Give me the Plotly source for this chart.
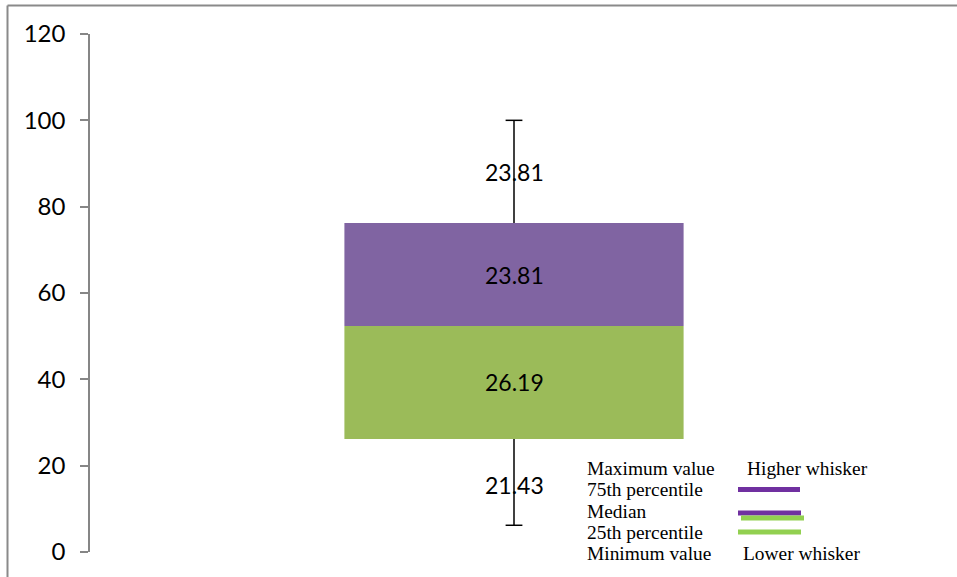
import plotly.graph_objects as go

# Five-number summary of the distribution (y axis units)
stat_names = ["Minimum value", "25th percentile", "Median", "75th percentile", "Maximum value"]
stat_values = [6.19, 26.19, 52.38, 76.19, 100.0]

# Share (%) of observations in each segment, bottom to top
segment_names = ["Lower whisker", "Lower box", "Upper box", "Higher whisker"]
segment_pct = [21.43, 26.19, 23.81, 23.81]

y_ticks = [0, 20, 40, 60, 80, 100, 120]

PURPLE_BOX = "#8064A2"
GREEN_BOX = "#9BBB59"
PURPLE_KEY = "#7030A0"
GREEN_KEY = "#92D050"
AXIS_GREY = "#868686"

W, H = 957, 577
L, R, T, B = 90, 19, 34, 25
PW, PH = W - L - R, H - T - B


def fx(px):
    return (px - L) / PW


def fy(py):
    return (H - B - py) / PH


vmin, q1, med, q3, vmax = stat_values
fig = go.Figure()

# Box: lower half (Q1 -> median) and upper half (median -> Q3)
fig.add_trace(go.Bar(x=[0], y=[med - q1], base=[q1], width=0.4,
                     marker=dict(color=GREEN_BOX, line=dict(width=0)),
                     hoverinfo="skip", showlegend=False))
fig.add_trace(go.Bar(x=[0], y=[q3 - med], base=[med], width=0.4,
                     marker=dict(color=PURPLE_BOX, line=dict(width=0)),
                     hoverinfo="skip", showlegend=False))

shapes = []
annotations = []

# Segment percentages, centred on their share of the stacked range
start = vmax - sum(segment_pct)
acc = start
for p in segment_pct:
    annotations.append(dict(text=f"{p:.2f}", x=0, y=acc + p / 2, xref="x", yref="y",
                            showarrow=False,
                            font=dict(family="Lato", size=23, color="black")))
    acc += p

# Whiskers
for lo, hi in [(vmin, q1), (q3, vmax)]:
    fig.add_trace(go.Scatter(x=[0, 0], y=[lo, hi], mode="lines",
                             line=dict(color="black", width=1.5),
                             hoverinfo="skip", showlegend=False))
fig.add_trace(go.Scatter(x=[0, 0], y=[vmin, vmax], mode="markers",
                         marker=dict(symbol="line-ew", size=12,
                                     line=dict(color="black", width=1.5)),
                         hoverinfo="skip", showlegend=False))

# Outer frame (top and left edges)
shapes.append(dict(type="line", xref="paper", yref="paper",
                   x0=fx(7.5), x1=fx(W + 5), y0=fy(5.5), y1=fy(5.5),
                   line=dict(color="#8a8a8a", width=2)))
shapes.append(dict(type="line", xref="paper", yref="paper",
                   x0=fx(7.5), x1=fx(7.5), y0=fy(5.5), y1=fy(H + 5),
                   line=dict(color="#8a8a8a", width=2)))

# Key
serif = dict(family="Liberation Serif", size=19.4, color="black")
key_rows = [468, 489.5, 511, 532, 553]
key_text = ["Maximum value", "75th percentile", "Median", "25th percentile", "Minimum value"]
for t, yy in zip(key_text, key_rows):
    annotations.append(dict(text=t, xref="paper", yref="paper", x=fx(584.5), y=fy(yy),
                            xanchor="left", yanchor="middle", showarrow=False, font=serif))
annotations.append(dict(text="Higher whisker", xref="paper", yref="paper", x=fx(745),
                        y=fy(468), xanchor="left", yanchor="middle", showarrow=False, font=serif))
annotations.append(dict(text="Lower whisker", xref="paper", yref="paper", x=fx(740.5),
                        y=fy(553), xanchor="left", yanchor="middle", showarrow=False, font=serif))

for x0, x1, yy, col in [(738, 800, 489.5, PURPLE_KEY), (738, 801, 513, PURPLE_KEY),
                        (741, 804, 518, GREEN_KEY), (738, 801, 532, GREEN_KEY)]:
    shapes.append(dict(type="line", xref="paper", yref="paper", x0=fx(x0), x1=fx(x1),
                       y0=fy(yy), y1=fy(yy), line=dict(color=col, width=5)))

fig.update_layout(
    width=W, height=H,
    margin=dict(l=L, r=R, t=T, b=B),
    paper_bgcolor="white", plot_bgcolor="white",
    barmode="overlay",
    xaxis=dict(range=[-0.5, 0.5], visible=False, fixedrange=True),
    yaxis=dict(range=[0, 120], tickvals=y_ticks, showgrid=False, zeroline=False,
               showline=True, linecolor=AXIS_GREY, linewidth=1.5,
               ticks="outside", ticklen=8, tickwidth=1.5, tickcolor=AXIS_GREY,
               tickfont=dict(family="Lato", size=24, color="black"),
               ticklabelstandoff=10),
    shapes=shapes, annotations=annotations,
    showlegend=False,
)

fig.write_html("out.html")
